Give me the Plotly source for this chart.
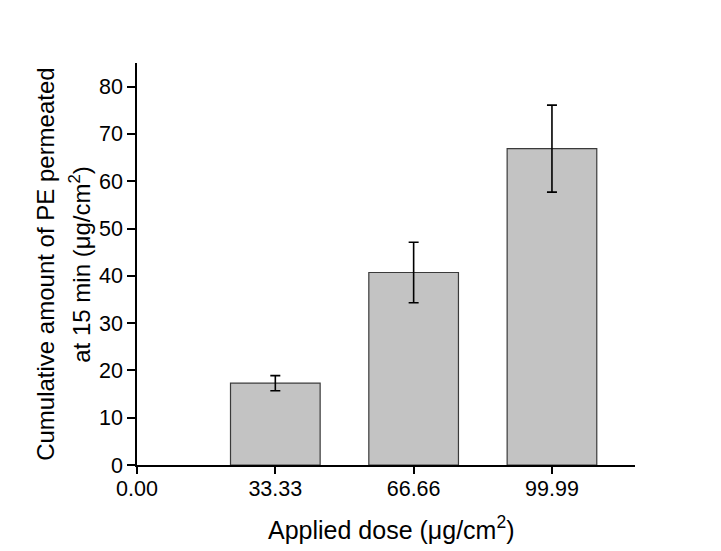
import plotly.graph_objects as go

doses = [33.33, 66.66, 99.99]
amounts = [17.3, 40.7, 66.9]
errors = [1.6, 6.4, 9.2]
x_ticks = [0.00, 33.33, 66.66, 99.99]

fig = go.Figure()
fig.add_trace(go.Bar(
    x=doses, y=amounts, width=21.6,
    marker=dict(color="#c3c3c3", line=dict(color="#3a3a3a", width=1.2)),
    error_y=dict(type="data", array=errors, visible=True, color="black",
                 thickness=1.6, width=5),
    showlegend=False,
))

font_family = "Liberation Sans, Arial, sans-serif"
fig.update_layout(
    width=721, height=551,
    margin=dict(l=137, r=86, t=63, b=86),
    paper_bgcolor="white", plot_bgcolor="white",
    font=dict(family=font_family, size=21, color="black"),
    xaxis=dict(range=[0, 120], tickvals=x_ticks, tickformat=".2f",
               showline=True, linecolor="black", linewidth=1.5,
               ticks="outside", ticklen=7, tickwidth=1.5, tickcolor="black",
               showgrid=False, zeroline=False, ticklabelstandoff=-4,
               tickfont=dict(size=21.5)),
    yaxis=dict(range=[0, 85], dtick=10, tick0=0,
               showline=True, linecolor="black", linewidth=1.5,
               ticks="outside", ticklen=8, tickwidth=1.5, tickcolor="black",
               showgrid=False, zeroline=False,
               tickfont=dict(size=21.5)),
    annotations=[
        dict(text="Cumulative amount of PE permeated", textangle=-90,
             xref="paper", yref="paper", x=-0.185, y=0.5,
             xanchor="center", yanchor="middle", showarrow=False,
             font=dict(size=24)),
        dict(text="at 15 min (μg/cm<sup>2</sup>)", textangle=-90,
             xref="paper", yref="paper", x=-0.115, y=0.5,
             xanchor="center", yanchor="middle", showarrow=False,
             font=dict(size=24)),
        dict(text="Applied dose (μg/cm<sup>2</sup>)",
             xref="paper", yref="paper", x=0.51, y=-0.157,
             xanchor="center", yanchor="middle", showarrow=False,
             font=dict(size=25)),
    ],
)

fig.write_html("out.html")
